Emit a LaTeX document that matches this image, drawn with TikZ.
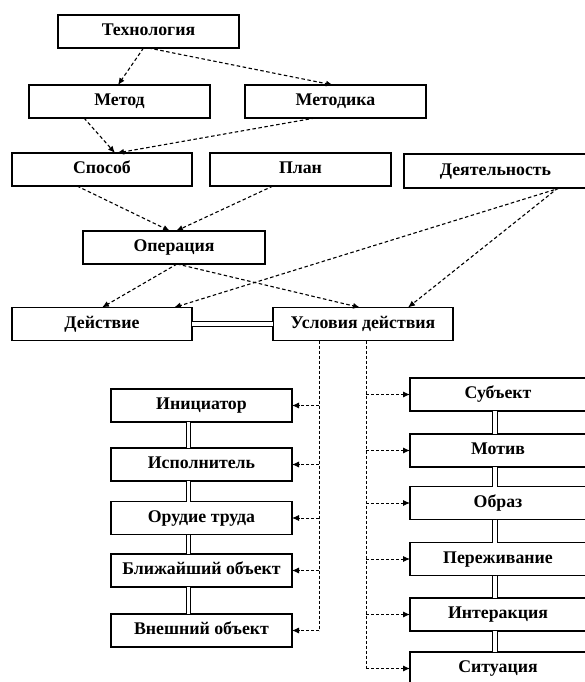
\documentclass[tikz,border=0pt]{standalone}
\usepackage{fontspec}
\setmainfont{Liberation Serif}
\usetikzlibrary{arrows.meta}
\begin{document}
\begin{tikzpicture}[x=1pt,y=-1pt,
  box/.style={draw,line width=1.2pt,rectangle,inner sep=0pt,outer sep=0pt,
    minimum height=33pt,text height=11.5pt,text depth=3pt,
    font=\fontsize{17.8}{20}\selectfont\bfseries},
  tip/.style={-{Latex[length=7pt,width=6pt]}},
  link/.style={dashed,dash pattern=on 3.5pt off 2.5pt,line width=1.1pt,tip},
  feed/.style={dashed,dash pattern=on 3pt off 2pt,line width=0.9pt,tip},
  bus/.style={dashed,dash pattern=on 3pt off 2pt,line width=0.9pt},
  pair/.style={double,line width=1pt,double distance=3.5pt}]
\useasboundingbox (0,0) rectangle (584,682);

% upper hierarchy
\node[box,minimum width=181pt] (tech)  at (148.5,31.5) {Технология};
\node[box,minimum width=181pt] (metod) at (119.5,101.5) {Метод};
\node[box,minimum width=181pt] (metodika) at (335.5,101.5) {Методика};
\node[box,minimum width=180pt] (sposob) at (102,169.5) {Способ};
\node[box,minimum width=181pt] (plan) at (300.5,169.5) {План};
\node[box,minimum width=183pt,minimum height=34pt] (deyat) at (495.5,171) {Деятельность};
\node[box,minimum width=182pt] (oper) at (174,247.5) {Операция};
\node[box,minimum width=180pt] (deystv) at (102,324) {Действие};
\node[box,minimum width=180pt] (uslov) at (363,324) {Условия действия};

% left column
\node[box,minimum width=181pt] (init)  at (201.5,405.5) {Инициатор};
\node[box,minimum width=181pt] (ispol) at (201.5,464.5) {Исполнитель};
\node[box,minimum width=181pt] (orud)  at (201.5,518) {Орудие труда};
\node[box,minimum width=181pt] (blizh) at (201.5,570.5) {Ближайший объект};
\node[box,minimum width=181pt] (vnesh) at (201.5,630.5) {Внешний объект};

% right column
\node[box,minimum width=176pt] (subj)  at (498,394.5) {Субъект};
\node[box,minimum width=176pt] (motiv) at (498,450.5) {Мотив};
\node[box,minimum width=176pt] (obraz) at (498,503) {Образ};
\node[box,minimum width=176pt] (perezh) at (498,559) {Переживание};
\node[box,minimum width=176pt] (inter) at (498,614.5) {Интеракция};
\node[box,minimum width=176pt] (situ)  at (498,668.5) {Ситуация};

% dashed links
\draw[link] ([xshift=-5pt]tech.south) -- ([xshift=-1.5pt]metod.north);
\draw[link] (tech.south) -- ([xshift=-2.5pt]metodika.north);
\draw[link] ([xshift=-35.5pt]metod.south) -- ([xshift=13pt]sposob.north);
\draw[link] ([xshift=-20.5pt]metodika.south) -- ([xshift=15pt]sposob.north);
\draw[link] ([xshift=-25pt]sposob.south) -- ([xshift=-4pt]oper.north);
\draw[link] ([xshift=-27.5pt]plan.south) -- ([xshift=2pt]oper.north);
\draw[link] ([xshift=3pt]oper.south) -- (deystv.north);
\draw[link] ([xshift=3pt]oper.south) -- ([xshift=-3pt]uslov.north);
\draw[link] ([xshift=64.5pt]deyat.south) -- ([xshift=72pt]deystv.north);
\draw[link] ([xshift=62.5pt]deyat.south) -- ([xshift=45pt]uslov.north);

% double ties
\draw[pair] (deystv.east) -- (uslov.west);
\draw[pair] ([xshift=-13pt]init.south) -- ([xshift=-13pt]ispol.north);
\draw[pair] ([xshift=-13pt]ispol.south) -- ([xshift=-13pt]orud.north);
\draw[pair] ([xshift=-13pt]orud.south) -- ([xshift=-13pt]blizh.north);
\draw[pair] ([xshift=-13pt]blizh.south) -- ([xshift=-13pt]vnesh.north);
\draw[pair] ([xshift=-3pt]subj.south) -- ([xshift=-3pt]motiv.north);
\draw[pair] ([xshift=-3pt]motiv.south) -- ([xshift=-3pt]obraz.north);
\draw[pair] ([xshift=-3pt]obraz.south) -- ([xshift=-3pt]perezh.north);
\draw[pair] ([xshift=-3pt]perezh.south) -- ([xshift=-3pt]inter.north);
\draw[pair] ([xshift=-3pt]inter.south) -- ([xshift=-3pt]situ.north);

% branching buses from the conditions box
\coordinate (busL) at ([xshift=-44pt]uslov.south);
\coordinate (busR) at ([xshift=3pt]uslov.south);
\draw[bus] (busL) -- (busL |- vnesh.east);
\draw[bus] (busR) -- (busR |- situ.west);
\foreach \t in {init,ispol,orud,blizh,vnesh}
  \draw[feed] (busL |- \t.east) -- (\t.east);
\foreach \t in {subj,motiv,obraz,perezh,inter,situ}
  \draw[feed] (busR |- \t.west) -- (\t.west);
\end{tikzpicture}
\end{document}
